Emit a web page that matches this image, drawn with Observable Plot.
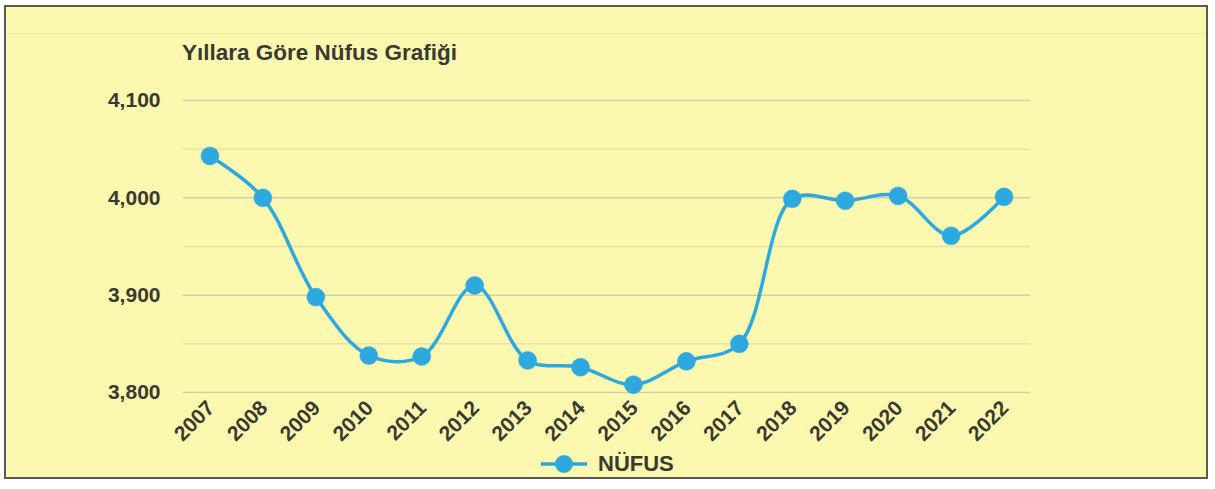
<!DOCTYPE html>
<html>
<head>
<meta charset="utf-8">
<script src="https://cdn.jsdelivr.net/npm/d3@7"></script>
<script src="https://cdn.jsdelivr.net/npm/@observablehq/plot@0.6"></script>
<style>
  html, body { margin: 0; padding: 0; background: #ffffff; }
  #wrap { position: relative; width: 1215px; height: 489px; overflow: hidden; background: #ffffff;
          font-family: "Liberation Sans", Arial, sans-serif; }
  #box { position: absolute; left: 4px; top: 5px; width: 1200px; height: 470px;
         border: 2px solid #5a5a55; background: #fcf8b0; }
  #band { position: absolute; left: 6px; top: 33px; width: 1200px; height: 1px; background: #eeeaa8; }
  #title { position: absolute; left: 182px; top: 40px; font-size: 22.5px; font-weight: bold; color: #3a3a30;
           white-space: nowrap; }
  #legend { position: absolute; left: 540px; top: 450px; height: 28px; display: flex; align-items: center;
            font-size: 22px; font-weight: bold; color: #3a3a30; }
  #chart { position: absolute; left: 0; top: 0; }
</style>
</head>
<body>
<div id="wrap">
  <div id="box"></div>
  <div id="band"></div>
  <div id="chart"></div>
  <div id="title"></div>
  <div id="legend"></div>
</div>
<script>
const titleText = "Yıllara Göre Nüfus Grafiği";
const seriesName = "NÜFUS";
const years = ["2007","2008","2009","2010","2011","2012","2013","2014","2015","2016","2017","2018","2019","2020","2021","2022"];
const population = [4043, 4000, 3898, 3838, 3837, 3910, 3833, 3826, 3808, 3832, 3850, 3999, 3997, 4002, 3961, 4001];
const majorTicks = [3800, 3900, 4000, 4100];
const minorTicks = [3850, 3950, 4050];

const lineColor = "#2ea9df";
const data = years.map((y, i) => ({year: y, value: population[i]}));

const chart = Plot.plot({
  width: 1215,
  height: 489,
  marginTop: 100,
  marginBottom: 97,
  marginLeft: 183,
  marginRight: 185,
  style: {background: "transparent", fontFamily: "'Liberation Sans', Arial, sans-serif", color: "#3a3a30", overflow: "visible"},
  x: {type: "point", domain: years, padding: 0.5, round: false},
  y: {domain: [3800, 4100]},
  marks: [
    Plot.ruleY(minorTicks, {stroke: "#e6e2a6", strokeWidth: 1.5}),
    Plot.ruleY(majorTicks, {stroke: "#d3d0a8", strokeWidth: 1.5}),
    Plot.axisY({ticks: majorTicks, tickSize: 0, tickPadding: 23, tickFormat: d3.format(","),
                fontSize: 21, fontWeight: "bold", label: null, fill: "#3a3a30"}),
    Plot.axisX({tickSize: 0, tickPadding: 12, tickRotate: -45, fontSize: 21, fontWeight: "bold",
                label: null, fill: "#3a3a30", dx: 1}),
    Plot.line(data, {x: "year", y: "value", curve: "catmull-rom", stroke: lineColor, strokeWidth: 3.5}),
    Plot.dot(data, {x: "year", y: "value", r: 9, fill: lineColor, stroke: lineColor, strokeWidth: 0.5})
  ]
});
document.getElementById("chart").appendChild(chart);
document.getElementById("title").textContent = titleText;

const legend = document.getElementById("legend");
legend.innerHTML = `<svg width="48" height="28" style="margin-right:10px"><line x1="1" y1="14" x2="47" y2="14" stroke="${lineColor}" stroke-width="3.5"/><circle cx="24" cy="14" r="9" fill="${lineColor}"/></svg><span></span>`;
legend.querySelector("span").textContent = seriesName;
</script>
</body>
</html>
